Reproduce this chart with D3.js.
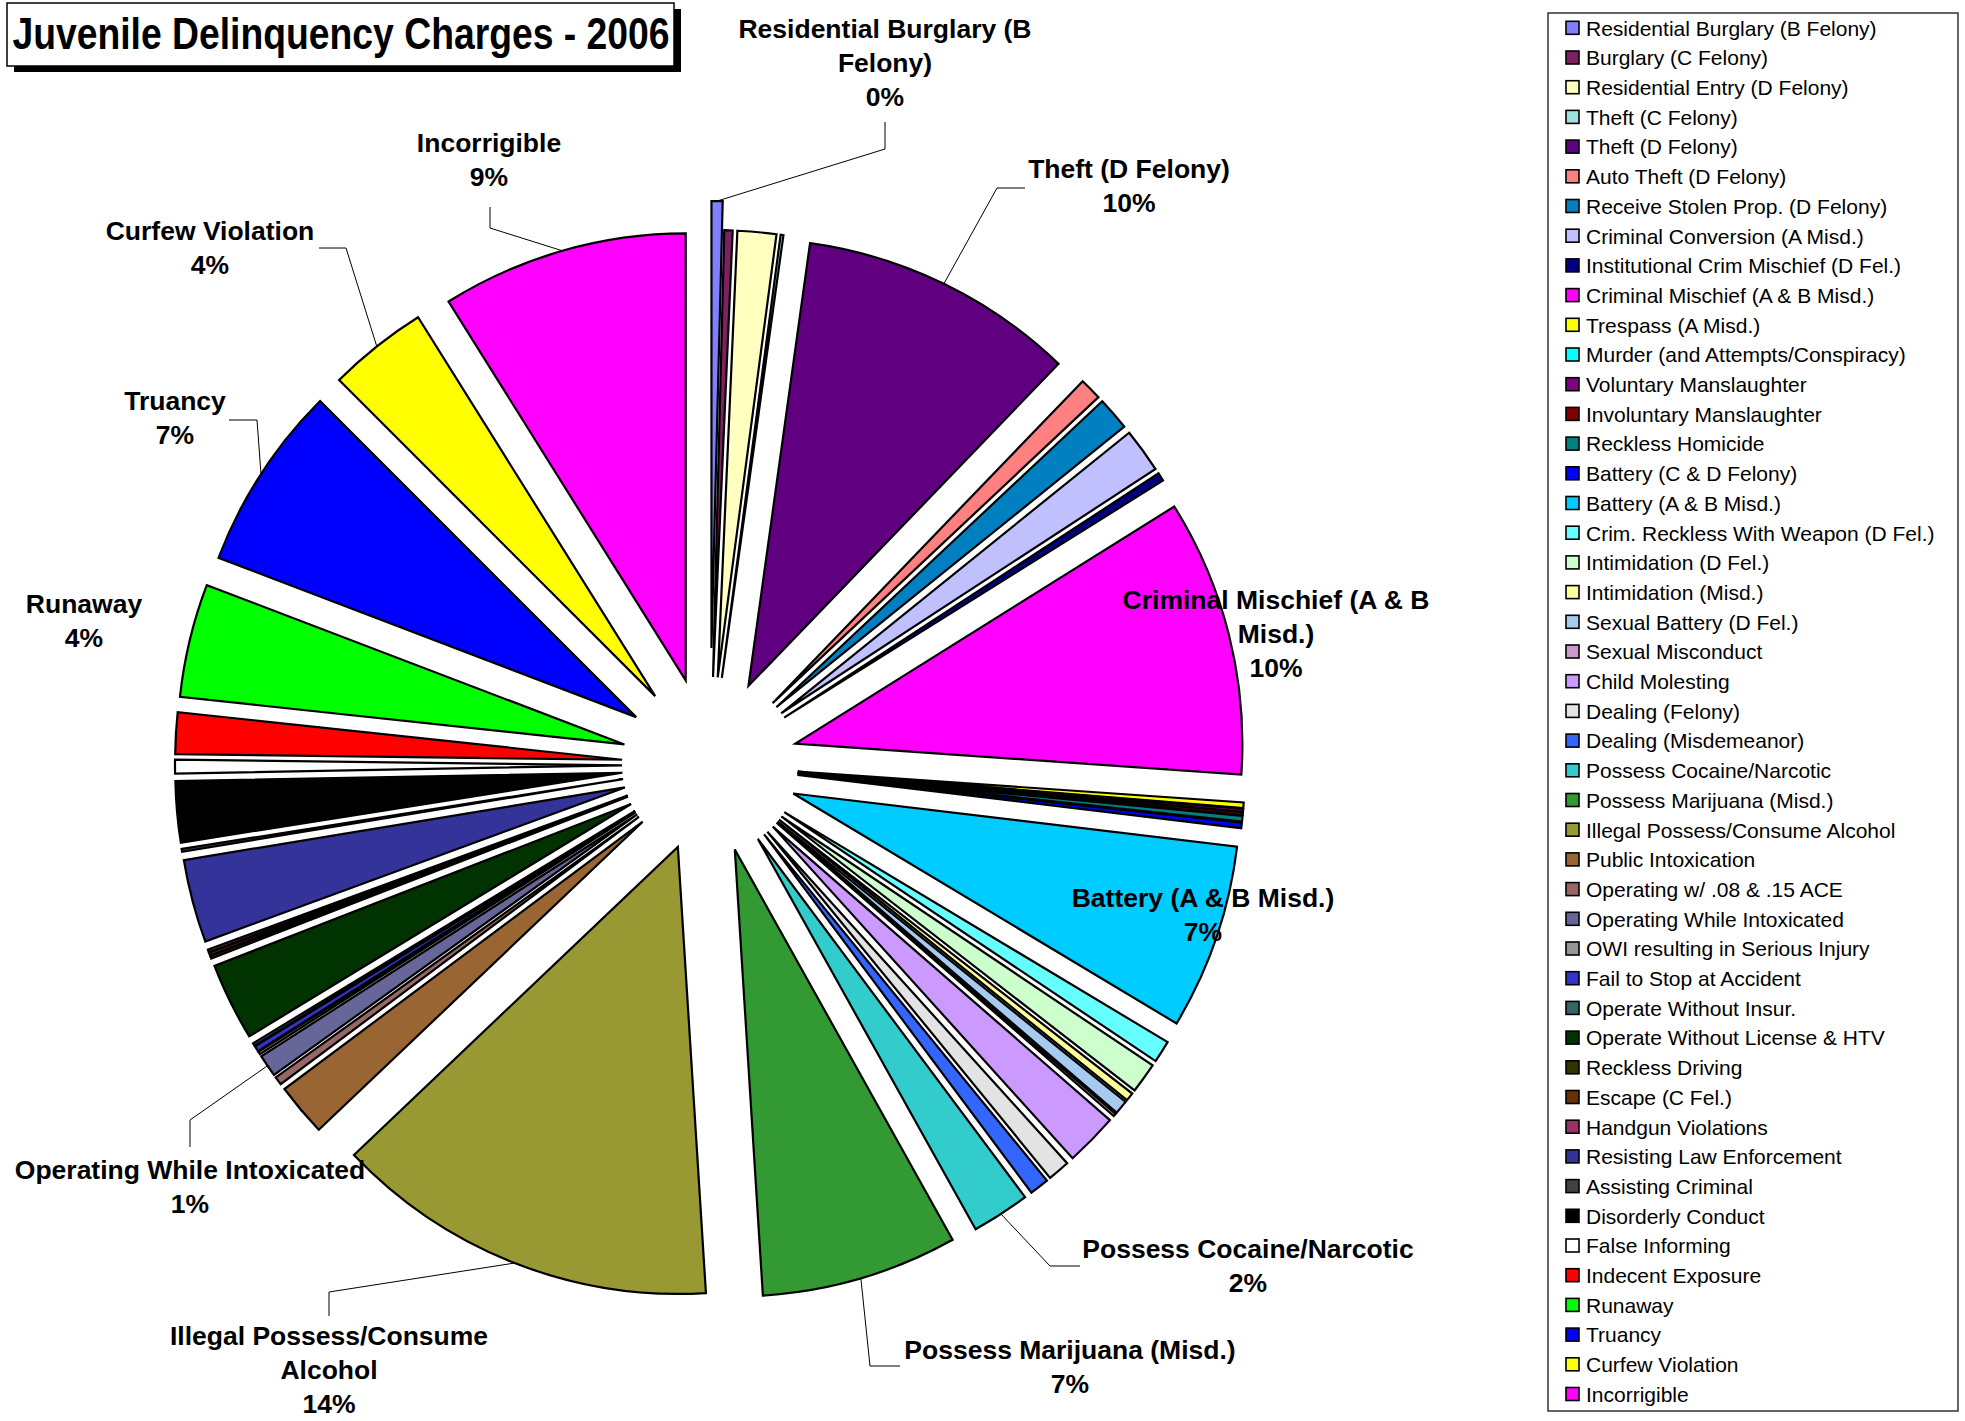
<!DOCTYPE html>
<html>
<head>
<meta charset="utf-8">
<script src="https://cdn.jsdelivr.net/npm/d3@7"></script>
<style>
  body { margin: 0; background: #fff; }
  text { font-family: "Liberation Sans", Arial, sans-serif; }
</style>
</head>
<body>
<div id="chart"></div>
<script>
// charges, in legend order (clockwise from 12 o'clock)
var categories = [
  "Residential Burglary (B Felony)", "Burglary (C Felony)", "Residential Entry (D Felony)",
  "Theft (C Felony)", "Theft (D Felony)", "Auto Theft (D Felony)", "Receive Stolen Prop. (D Felony)",
  "Criminal Conversion (A Misd.)", "Institutional Crim Mischief (D Fel.)", "Criminal Mischief (A & B Misd.)",
  "Trespass (A Misd.)", "Murder (and Attempts/Conspiracy)", "Voluntary Manslaughter",
  "Involuntary Manslaughter", "Reckless Homicide", "Battery (C & D Felony)", "Battery (A & B Misd.)",
  "Crim. Reckless With Weapon (D Fel.)", "Intimidation (D Fel.)", "Intimidation (Misd.)",
  "Sexual Battery (D Fel.)", "Sexual Misconduct", "Child Molesting", "Dealing (Felony)",
  "Dealing (Misdemeanor)", "Possess Cocaine/Narcotic", "Possess Marijuana (Misd.)",
  "Illegal Possess/Consume Alcohol", "Public Intoxication", "Operating w/ .08 & .15 ACE",
  "Operating While Intoxicated", "OWI resulting in Serious Injury", "Fail to Stop at Accident",
  "Operate Without Insur.", "Operate Without License & HTV", "Reckless Driving", "Escape (C Fel.)",
  "Handgun Violations", "Resisting Law Enforcement", "Assisting Criminal", "Disorderly Conduct",
  "False Informing", "Indecent Exposure", "Runaway", "Truancy", "Curfew Violation", "Incorrigible"
];

var counts = [
  4, 3, 14, 1, 100, 8, 12, 16, 3, 100,
  2, 0, 1, 1, 2, 2, 67,
  8, 11, 3, 5, 1, 19, 8, 7, 21, 71,
  139, 19, 3, 8, 1, 2, 1, 28, 1, 1, 1, 30, 1, 22, 5, 15,
  41, 67, 36, 89
];

var colors = [
  "#8080FF", "#802060", "#FFFFC0", "#A0E0E0", "#600080", "#FF8080", "#0080C0",
  "#C0C0FF", "#000080", "#FF00FF", "#FFFF00", "#00FFFF", "#800080",
  "#800000", "#008080", "#0000FF", "#00CCFF", "#66FFFF", "#CCFFCC", "#FFFF99",
  "#A6CAF0", "#CC99CC", "#CC99FF", "#E3E3E3", "#3366FF", "#33CCCC", "#339933",
  "#999933", "#996633", "#996666", "#666699", "#969696", "#3333CC",
  "#336666", "#003300", "#333300", "#663300", "#993366", "#333399", "#424242",
  "#000000", "#FFFFFF", "#FF0000", "#00FF00", "#0000FF", "#FFFF00", "#FF00FF"
];

// data labels shown on the chart (label box placement, leader elbows)
var labelLayout = {
  "Residential Burglary (B Felony)": {x: 885, y: 29, lines: ["Residential Burglary (B", "Felony)"], leader: [[885, 122], [885, 149]]},
  "Theft (D Felony)": {x: 1129, y: 169, lines: ["Theft (D Felony)"], leader: [[1025, 188], [997, 188]]},
  "Criminal Mischief (A & B Misd.)": {x: 1276, y: 600, lines: ["Criminal Mischief (A & B", "Misd.)"]},
  "Battery (A & B Misd.)": {x: 1203, y: 898, lines: ["Battery (A & B Misd.)"]},
  "Possess Cocaine/Narcotic": {x: 1248, y: 1249, lines: ["Possess Cocaine/Narcotic"], leader: [[1080, 1266], [1050, 1266]]},
  "Possess Marijuana (Misd.)": {x: 1070, y: 1350, lines: ["Possess Marijuana (Misd.)"], leader: [[900, 1366], [870, 1366]]},
  "Illegal Possess/Consume Alcohol": {x: 329, y: 1336, lines: ["Illegal Possess/Consume", "Alcohol"], leader: [[329, 1316], [329, 1292]]},
  "Operating While Intoxicated": {x: 190, y: 1170, lines: ["Operating While Intoxicated"], leader: [[190, 1147], [190, 1120]]},
  "Runaway": {x: 84, y: 604, lines: ["Runaway"]},
  "Truancy": {x: 175, y: 401, lines: ["Truancy"], leader: [[229, 420], [257, 420]]},
  "Curfew Violation": {x: 210, y: 231, lines: ["Curfew Violation"], leader: [[319, 248], [346, 248]]},
  "Incorrigible": {x: 489, y: 143, lines: ["Incorrigible"], leader: [[490, 207], [490, 228]]}
};

var width = 1965, height = 1421;
var cx = 710, cy = 765, radius = 447;
var explode = 88, explodeExtra = {"Residential Burglary (B Felony)": 117};
var lineH = 34;

var data = categories.map(function(c, i) { return {name: c, value: counts[i], color: colors[i]}; });
var total = d3.sum(counts);
var pct = d3.format(".0%");

var svg = d3.select("#chart")
  .append("svg")
  .attr("width", width)
  .attr("height", height);

// title box with drop shadow
svg.append("rect")
  .attr("x", 14).attr("y", 9)
  .attr("width", 667).attr("height", 63)
  .attr("fill", "#000");
svg.append("rect")
  .attr("x", 7).attr("y", 3)
  .attr("width", 667).attr("height", 63)
  .attr("fill", "#fff")
  .attr("stroke", "#000")
  .attr("stroke-width", 1.5);
// narrow bold face: squeeze horizontally
svg.append("text")
  .attr("transform", "translate(341,49) scale(0.848,1)")
  .attr("text-anchor", "middle")
  .style("font-size", "44px")
  .style("font-weight", "bold")
  .text("Juvenile Delinquency Charges - 2006");

// pie
var pie = d3.pie().sort(null).value(function(d) { return d.value; });
var arc = d3.arc().innerRadius(0).outerRadius(radius);
var arcs = pie(data);

function offsetOf(d) {
  var off = explodeExtra[d.data.name] || explode;
  var mid = (d.startAngle + d.endAngle) / 2;
  return [off * Math.sin(mid), -off * Math.cos(mid)];
}

svg.append("g")
  .attr("transform", `translate(${cx},${cy})`)
  .selectAll("path")
  .data(arcs)
  .join("path")
    .attr("transform", function(d) { var o = offsetOf(d); return `translate(${o[0]},${o[1]})`; })
    .attr("d", arc)
    .attr("fill", function(d) { return d.data.color; })
    .attr("stroke", "#000")
    .attr("stroke-width", 2.2)
    .attr("stroke-linejoin", "miter");

// data labels and leader lines
var labels = svg.append("g");
arcs.forEach(function(d) {
  var lay = labelLayout[d.data.name];
  if (!lay) return;
  if (lay.leader) {
    var mid = (d.startAngle + d.endAngle) / 2;
    var rr = radius + (explodeExtra[d.data.name] || explode);
    var end = [cx + rr * Math.sin(mid), cy - rr * Math.cos(mid)];
    labels.append("path")
      .attr("d", d3.line()(lay.leader.concat([end])))
      .attr("fill", "none")
      .attr("stroke", "#000")
      .attr("stroke-width", 1);
  }
  var t = labels.append("text")
    .attr("text-anchor", "middle")
    .style("font-size", "26.5px")
    .style("font-weight", "bold");
  lay.lines.concat([pct(d.data.value / total)]).forEach(function(s, i) {
    t.append("tspan")
      .attr("x", lay.x)
      .attr("y", lay.y + i * lineH)
      .attr("dy", "0.35em")
      .text(s);
  });
});

// legend
var legendY = d3.scalePoint()
  .domain(categories)
  .range([28.3, 28.3 + 46 * 29.7]);

svg.append("rect")
  .attr("x", 1548).attr("y", 13)
  .attr("width", 410).attr("height", 1398)
  .attr("fill", "#fff")
  .attr("stroke", "#333")
  .attr("stroke-width", 1.5);

var legend = svg.append("g")
  .selectAll("g")
  .data(data)
  .join("g")
    .attr("transform", function(d) { return `translate(1566,${legendY(d.name)})`; });

legend.append("rect")
  .attr("x", 0).attr("y", -7)
  .attr("width", 13).attr("height", 13)
  .attr("fill", function(d) { return d.color; })
  .attr("stroke", "#000")
  .attr("stroke-width", 1.6);

legend.append("text")
  .attr("x", 20).attr("y", 0)
  .attr("dy", "0.35em")
  .style("font-size", "21px")
  .text(function(d) { return d.name; });
</script>
</body>
</html>
